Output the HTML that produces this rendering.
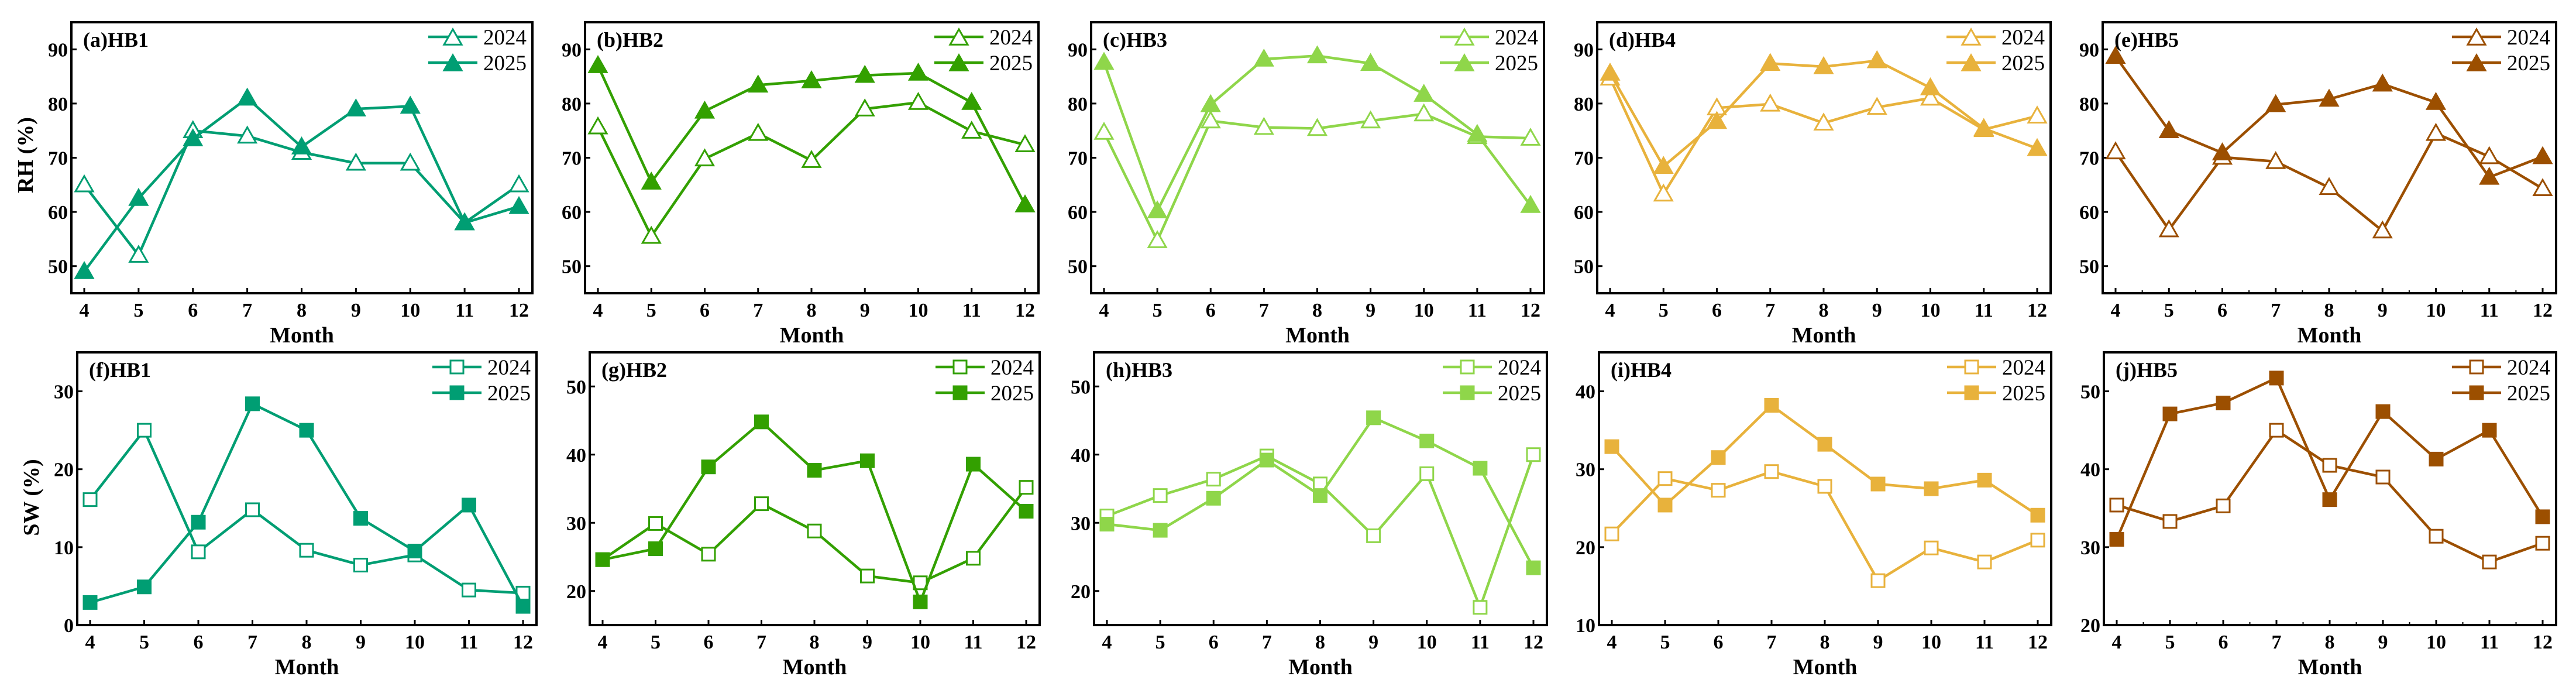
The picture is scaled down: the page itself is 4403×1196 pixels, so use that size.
<!DOCTYPE html>
<html><head><meta charset="utf-8"><style>
html,body{margin:0;padding:0;background:#fff;}
svg{display:block;font-family:"Liberation Serif",serif;}
</style></head><body>
<svg id="chart" xmlns="http://www.w3.org/2000/svg" width="4403" height="1196" viewBox="0 0 4403 1196"></svg>
<script>
const months = [4,5,6,7,8,9,10,11,12];
const panelLabels = ["(a)HB1","(b)HB2","(c)HB3","(d)HB4","(e)HB5","(f)HB1","(g)HB2","(h)HB3","(i)HB4","(j)HB5"];
const rhA24 = [65,52,75,74,71,69,69,58,65];
const rhA25 = [49,62.5,73.5,81,72,79,79.5,58,61];
const rhB24 = [75.7,55.5,69.8,74.5,69.5,79,80.2,74.9,72.4];
const rhB25 = [87,65.5,78.6,83.4,84.2,85.2,85.6,80.2,61.3];
const rhC24 = [74.7,54.7,76.8,75.6,75.4,76.8,78.1,73.9,73.6];
const rhC25 = [87.6,60.2,79.8,88.2,88.8,87.4,81.7,74.3,61.2];
const rhD24 = [84.7,63.3,79.2,79.9,76.4,79.3,81,75.2,77.7];
const rhD25 = [85.6,68.4,76.7,87.4,86.8,87.9,82.9,75.4,71.7];
const rhE24 = [71.1,56.7,70.1,69.3,64.5,56.5,74.5,70.2,64.3];
const rhE25 = [88.7,75,70.9,79.8,80.8,83.6,80.2,66.4,70.2];
const swF24 = [16.1,25,9.4,14.8,9.6,7.7,9,4.5,4.1];
const swF25 = [2.9,4.9,13.2,28.4,25,13.7,9.5,15.4,2.4];
const swG24 = [24.6,29.9,25.4,32.8,28.8,22.2,21.2,24.8,35.2];
const swG25 = [24.6,26.2,38.2,44.8,37.7,39.1,18.4,38.6,31.7];
const swH24 = [31,34,36.4,39.8,35.7,28.1,37.2,17.6,40];
const swH25 = [29.8,28.9,33.6,39.2,34,45.4,42,38,23.4];
const swI24 = [21.7,28.8,27.3,29.7,27.8,15.7,19.9,18.1,20.9];
const swI25 = [32.9,25.4,31.5,38.2,33.2,28.1,27.5,28.6,24.1];
const swJ24 = [35.4,33.3,35.3,45,40.5,39,31.4,28.1,30.5];
const swJ25 = [31,47.1,48.5,51.7,36.1,47.4,41.3,45,33.9];
const rhTicks = [50,60,70,80,90];
const swTicksF = [0,10,20,30];
const swTicksGH = [20,30,40,50];
const swTicksI = [10,20,30,40];
const swTicksJ = [20,30,40,50];

const NS="http://www.w3.org/2000/svg";
const svg=document.getElementById('chart');
function mk(tag,attrs,parent){const e=document.createElementNS(NS,tag);for(const k in attrs)e.setAttribute(k,attrs[k]);(parent||svg).appendChild(e);return e;}

const colors=["#009e73","#33a000","#8fd64a","#e8b23c","#9c4f00"];
const topBoxes=[[122,910],[1000,1775],[1865,2639],[2730,3505],[3594,4369]];
const botBoxes=[[132,917],[1008,1777],[1870,2644],[2733,3506],[3596,4369]];
const panels=[
 {box:topBoxes[0],top:38,bot:501,ymin:45,ymax:95,ticks:rhTicks,s24:rhA24,s25:rhA25,c:0,tri:true,lab:0,yt:"RH (%)"},
 {box:topBoxes[1],top:38,bot:501,ymin:45,ymax:95,ticks:rhTicks,s24:rhB24,s25:rhB25,c:1,tri:true,lab:1},
 {box:topBoxes[2],top:38,bot:501,ymin:45,ymax:95,ticks:rhTicks,s24:rhC24,s25:rhC25,c:2,tri:true,lab:2},
 {box:topBoxes[3],top:38,bot:501,ymin:45,ymax:95,ticks:rhTicks,s24:rhD24,s25:rhD25,c:3,tri:true,lab:3},
 {box:topBoxes[4],top:38,bot:501,ymin:45,ymax:95,ticks:rhTicks,s24:rhE24,s25:rhE25,c:4,tri:true,lab:4,minor:true},
 {box:botBoxes[0],top:602,bot:1068,ymin:0,ymax:35,ticks:swTicksF,s24:swF24,s25:swF25,c:0,tri:false,lab:5,yt:"SW (%)"},
 {box:botBoxes[1],top:602,bot:1068,ymin:15,ymax:55,ticks:swTicksGH,s24:swG24,s25:swG25,c:1,tri:false,lab:6},
 {box:botBoxes[2],top:602,bot:1068,ymin:15,ymax:55,ticks:swTicksGH,s24:swH24,s25:swH25,c:2,tri:false,lab:7},
 {box:botBoxes[3],top:602,bot:1068,ymin:10,ymax:45,ticks:swTicksI,s24:swI24,s25:swI25,c:3,tri:false,lab:8},
 {box:botBoxes[4],top:602,bot:1068,ymin:20,ymax:55,ticks:swTicksJ,s24:swJ24,s25:swJ25,c:4,tri:false,lab:9,minor:true},
];

function marker(g,x,y,tri,filled,col){
  let m;
  if(tri){const s=15;m=mk('polygon',{points:`${x},${y-s} ${x-s},${y+s*0.75} ${x+s},${y+s*0.75}`,fill:filled?col:'#fff',stroke:col,'stroke-width':3},g);}
  else{const s=11;m=mk('rect',{x:x-s,y:y-s,width:2*s,height:2*s,fill:filled?col:'#fff',stroke:col,'stroke-width':3},g);}
  return m;
}

panels.forEach((p,pi)=>{
  const g=mk('g',{});
  
  
  const L=p.box[0],R=p.box[1],T=p.top,B=p.bot,col=colors[p.c];
  const xs=m=>L+22+(m-4)*((R-23)-(L+22))/8;
  const ys=v=>B-(v-p.ymin)/(p.ymax-p.ymin)*(B-T);
  // ticks
  months.forEach(m=>{
    const t=mk('line',{x1:xs(m),x2:xs(m),y1:B,y2:B-9,stroke:'#000','stroke-width':3},g);
    
    
    const tx=mk('text',{x:xs(m),y:B+40,'text-anchor':'middle','font-size':34,'font-weight':'bold'},g);
    tx.textContent=m;
    
    
    if(p.minor&&m<12){mk('line',{x1:xs(m+0.5),x2:xs(m+0.5),y1:B,y2:B-5,stroke:'#000','stroke-width':2},g);}
  });
  p.ticks.forEach(v=>{
    const t=mk('line',{x1:L,x2:L+9,y1:ys(v),y2:ys(v),stroke:'#000','stroke-width':3},g);
    
    
    const tx=mk('text',{x:L-6,y:ys(v)+12,'text-anchor':'end','font-size':34,'font-weight':'bold'},g);
    tx.textContent=v;
    
    
  });
  // series
  [[p.s24,false,'2024'],[p.s25,true,'2025']].forEach(([arr,filled,yr])=>{
    const pl=mk('polyline',{points:arr.map((v,i)=>xs(months[i])+','+ys(v)).join(' '),fill:'none',stroke:col,'stroke-width':4.5,'stroke-linejoin':'round'},g);
    
    
    arr.forEach((v,i)=>{
      const mm=marker(g,xs(months[i]),ys(v),p.tri,filled,col);
      
      
    });
  });
  // frame
  const fr=mk('rect',{x:L,y:T,width:R-L,height:B-T,fill:'none',stroke:'#000','stroke-width':4},g);
  
  
  // title
  const ti=mk('text',{x:L+20,y:T+42,'font-size':36,'font-weight':'bold'},g);
  ti.textContent=panelLabels[p.lab];
  
  
  // legend
  [['2024',false,25],['2025',true,69]].forEach(([yr,filled,dy])=>{
    const lg=mk('g',{},g);
    
    
    const cy=T+dy;
    mk('line',{x1:R-178,x2:R-94,y1:cy,y2:cy,stroke:col,'stroke-width':4.5},lg);
    marker(lg,R-136,cy+(p.tri?2:0),p.tri,filled,col);
    const lt=mk('text',{x:R-84,y:cy+13,'font-size':37},lg);
    lt.textContent=yr;
  });
  // x title
  const xt=mk('text',{x:(L+R)/2,y:B+84,'text-anchor':'middle','font-size':38,'font-weight':'bold'},g);
  xt.textContent='Month';
  
  
  if(p.yt){
    const cy=p.top<100?265:850;
    const yt=mk('text',{x:0,y:0,'text-anchor':'middle','font-size':38,'font-weight':'bold',transform:`translate(${L-66},${cy}) rotate(-90)`},g);
    yt.textContent=p.yt;
    
    
  }
});
</script>
</body></html>
